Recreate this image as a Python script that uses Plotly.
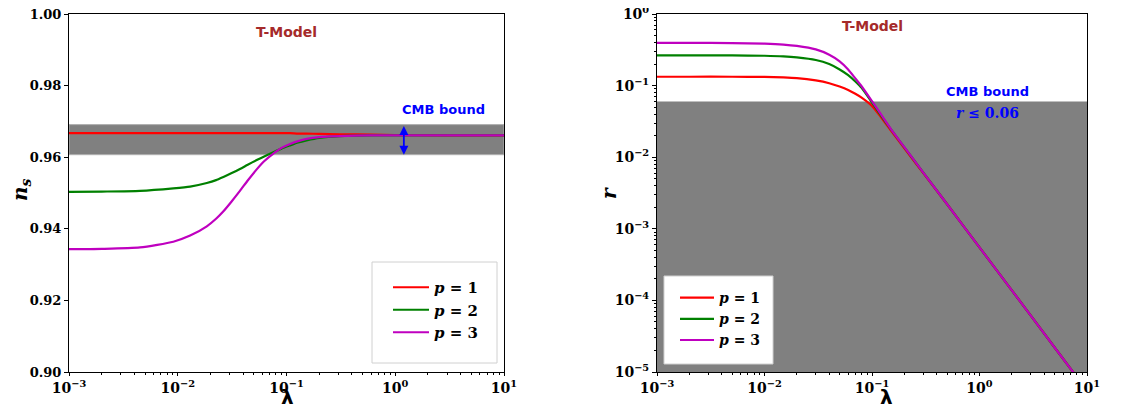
import plotly.graph_objects as go
import numpy as np

# ---------------- data ----------------
lam_ns = [0.001, 0.002, 0.0045, 0.0091, 0.013, 0.0185, 0.0225, 0.0263, 0.031, 0.0373,
          0.044, 0.0532, 0.063, 0.0757, 0.09, 0.108, 0.128, 0.153, 0.2, 0.31, 0.6,
          1.0, 3.0, 10.0]
ns_p1 = [0.9667, 0.9667, 0.9667, 0.9667, 0.9667, 0.9667, 0.9667, 0.9667, 0.9667, 0.9667,
         0.9667, 0.9667, 0.9667, 0.9667, 0.9667, 0.9667, 0.9666, 0.9666, 0.9665, 0.9664,
         0.9663, 0.9662, 0.9661, 0.9661]
ns_p2 = [0.9503, 0.9504, 0.9506, 0.9513, 0.9518, 0.9528, 0.9536, 0.9545, 0.9555, 0.9567,
         0.9579, 0.9592, 0.9603, 0.9614, 0.9624, 0.9633, 0.9641, 0.9647, 0.9654, 0.9659,
         0.9661, 0.9661, 0.9661, 0.9661]
ns_p3 = [0.9343, 0.9344, 0.9348, 0.9364, 0.9381, 0.9407, 0.9428, 0.9449, 0.9475, 0.9506,
         0.9535, 0.9566, 0.9590, 0.9610, 0.9626, 0.9637, 0.9645, 0.9651, 0.9656, 0.9659,
         0.9661, 0.9661, 0.9661, 0.9661]

lam_r = [0.001, 0.002, 0.005, 0.01, 0.015, 0.02, 0.03, 0.04, 0.05, 0.06, 0.07, 0.08,
         0.1, 0.12, 0.15, 0.2, 0.3, 0.5, 1.0, 2.0, 5.0, 10.0]
r_p1 = [0.133, 0.133, 0.133, 0.132, 0.130, 0.127, 0.118, 0.108, 0.097, 0.087, 0.077, 0.068,
        0.052, 0.037, 0.0235, 0.0133, 0.0060, 0.0022, 5.5e-4, 1.38e-4, 2.2e-5, 5.5e-6]
r_p2 = [0.265, 0.265, 0.264, 0.261, 0.256, 0.248, 0.228, 0.200, 0.168, 0.140, 0.114, 0.093,
        0.058, 0.039, 0.0245, 0.0137, 0.0061, 0.0022, 5.5e-4, 1.38e-4, 2.2e-5, 5.5e-6]
r_p3 = [0.395, 0.395, 0.392, 0.385, 0.374, 0.358, 0.320, 0.270, 0.218, 0.168, 0.126, 0.098,
        0.0605, 0.0405, 0.0247, 0.0138, 0.0061, 0.0022, 5.5e-4, 1.38e-4, 2.2e-5, 5.5e-6]

series_names = ["<b><i>p</i> = 1</b>", "<b><i>p</i> = 2</b>", "<b><i>p</i> = 3</b>"]
colors = ["#ff0000", "#008000", "#bf00bf"]

ns_band = [0.9607, 0.9691]
r_bound = 0.06
r_floor = 1e-5

x_tickvals = [1e-3, 1e-2, 1e-1, 1, 10]
x_ticktext = ["10<sup>−3</sup>", "10<sup>−2</sup>", "10<sup>−1</sup>", "10<sup>0</sup>", "10<sup>1</sup>"]
ns_tickvals = [0.90, 0.92, 0.94, 0.96, 0.98, 1.00]
ns_ticktext = ["0.90", "0.92", "0.94", "0.96", "0.98", "1.00"]
r_tickvals = [1e-5, 1e-4, 1e-3, 1e-2, 1e-1, 1]
r_ticktext = ["10<sup>−5</sup>", "10<sup>−4</sup>", "10<sup>−3</sup>", "10<sup>−2</sup>", "10<sup>−1</sup>", "10<sup>0</sup>"]

# minor tick positions (2..9 within each decade)
x_minor = [m * 10.0 ** e for e in range(-3, 1) for m in range(2, 10)]
r_minor = [m * 10.0 ** e for e in range(-5, 0) for m in range(2, 10)]

# ---------------- figure ----------------
# the page body adds an 8 px offset; positions below are in window pixels
OFF = 8
W, H = 1119, 400
fig = go.Figure()

for ys, name, c in zip([ns_p1, ns_p2, ns_p3], series_names, colors):
    fig.add_trace(go.Scatter(x=lam_ns, y=ys, mode="lines", name=name,
                             line=dict(color=c, width=2.2, shape="spline", smoothing=0.6),
                             xaxis="x", yaxis="y", legend="legend"))
for ys, name, c in zip([r_p1, r_p2, r_p3], series_names, colors):
    fig.add_trace(go.Scatter(x=lam_r, y=ys, mode="lines", name=name,
                             line=dict(color=c, width=2.2, shape="spline", smoothing=0.6),
                             xaxis="x2", yaxis="y2", legend="legend2"))

def px_x(p): return (p - OFF) / W
def px_y(p): return 1 - (p - OFF) / H

tickfont = dict(family="DejaVu Serif", size=13, color="black", weight="bold")
common_x = dict(type="log", range=[-3, 1], tickvals=x_tickvals, ticktext=x_ticktext,
                ticks="outside", ticklen=3, tickwidth=1, tickcolor="black",
                showline=True, linecolor="black", linewidth=1, mirror=True, automargin=False,
                ticklabeloverflow="allow",
                showgrid=False, zeroline=False, tickfont=dict(tickfont, size=14),
                minor=dict(ticks="outside", ticklen=2, tickcolor="black", showgrid=False,
                           tickvals=x_minor))

fig.update_layout(
    width=W, height=H, margin=dict(l=0, r=0, t=0, b=0, autoexpand=False),
    plot_bgcolor="white", paper_bgcolor="white",
    xaxis=dict(common_x, domain=[px_x(69), px_x(504)], anchor="y"),
    xaxis2=dict(common_x, domain=[px_x(657), px_x(1087)], anchor="y2"),
    yaxis=dict(range=[0.90, 1.00], domain=[px_y(372), px_y(14)], anchor="x", automargin=False,
               ticklabeloverflow="allow",
               tickvals=ns_tickvals, ticktext=ns_ticktext, ticks="outside", ticklen=4,
               tickcolor="black", showline=True, linecolor="black", linewidth=1, mirror=True,
               showgrid=False, zeroline=False, tickfont=tickfont),
    yaxis2=dict(type="log", range=[-5, 0], domain=[px_y(372), px_y(14)], anchor="x2",
                automargin=False, ticklabeloverflow="allow",
                tickvals=r_tickvals, ticktext=r_ticktext, ticks="outside", ticklen=4,
                tickcolor="black", showline=True, linecolor="black", linewidth=1, mirror=True,
                showgrid=False, zeroline=False, tickfont=dict(tickfont, size=14),
                minor=dict(ticks="outside", ticklen=2, tickcolor="black", showgrid=False,
                           tickvals=r_minor)),
    legend=dict(x=px_x(388), y=px_y(271), xanchor="left", yanchor="top",
                bgcolor="rgba(0,0,0,0)", borderwidth=0, itemwidth=36,
                font=dict(family="DejaVu Serif", size=15, color="black")),
    legend2=dict(x=px_x(675), y=px_y(282), xanchor="left", yanchor="top",
                 bgcolor="rgba(0,0,0,0)", borderwidth=0, itemwidth=34,
                 font=dict(family="DejaVu Serif", size=14, color="black")),
    showlegend=True,
)

# shaded bounds
fig.add_shape(type="rect", xref="x domain", yref="y", x0=0, x1=1, y0=ns_band[0], y1=ns_band[1],
              fillcolor="#808080", line=dict(color="#b0b0b0", width=1), layer="below")
fig.add_shape(type="rect", xref="x2 domain", yref="y2", x0=0, x1=1, y0=r_floor, y1=r_bound,
              fillcolor="#808080", line=dict(width=0), layer="below")

# legend boxes
fig.add_shape(type="rect", xref="paper", yref="paper", x0=px_x(372), x1=px_x(497),
              y0=px_y(363), y1=px_y(262), fillcolor="white",
              line=dict(color="#d0d0d0", width=1), layer="above", opacity=1)
fig.add_shape(type="rect", xref="paper", yref="paper", x0=px_x(664), x1=px_x(773),
              y0=px_y(364), y1=px_y(276), fillcolor="white",
              line=dict(color="#d0d0d0", width=1), layer="above", opacity=1)

# CMB arrow (left)
fig.add_annotation(x=np.log10(1.2), y=ns_band[0], ax=np.log10(1.2), ay=ns_band[1],
                   xref="x", yref="y", axref="x", ayref="y", text="", showarrow=True,
                   arrowhead=2, startarrowhead=2, arrowside="end+start", arrowsize=1,
                   arrowwidth=1.8, arrowcolor="blue")

sans_bold = dict(family="DejaVu Sans", size=13, weight="bold")
fig.add_annotation(x=np.log10(2.75), y=0.9733, xref="x", yref="y", text="CMB bound",
                   showarrow=False, font=dict(sans_bold, color="blue"))
fig.add_annotation(x=np.log10(0.1), y=0.9950, xref="x", yref="y", text="T-Model",
                   showarrow=False, font=dict(sans_bold, size=14, color="#a52a2a"))
fig.add_annotation(x=np.log10(1.18), y=np.log10(0.084), xref="x2", yref="y2", text="CMB bound",
                   showarrow=False, font=dict(sans_bold, color="blue"))
fig.add_annotation(x=np.log10(1.18), y=np.log10(0.041), xref="x2", yref="y2",
                   text="<b><i>r</i> ≤ 0.06</b>", showarrow=False,
                   font=dict(family="DejaVu Serif", size=14, color="blue"))
fig.add_annotation(x=np.log10(0.1), y=np.log10(0.68), xref="x2", yref="y2", text="T-Model",
                   showarrow=False, font=dict(sans_bold, size=14, color="#a52a2a"))

# axis titles
title_font = dict(family="DejaVu Serif", size=20, color="black", weight="bold")
for xp in (287, 886):
    fig.add_annotation(x=px_x(xp), y=px_y(397), xref="paper", yref="paper", text="<b>λ</b>",
                       xanchor="center", yanchor="middle", showarrow=False,
                       font=dict(family="DejaVu Sans", size=20, color="black"))
fig.add_annotation(x=px_x(21), y=px_y(190), xref="paper", yref="paper",
                   text="<b><i>n<sub>s</sub></i></b>", textangle=-90, showarrow=False,
                   xanchor="center", yanchor="middle", font=title_font)
fig.add_annotation(x=px_x(609), y=px_y(193), xref="paper", yref="paper",
                   text="<b><i>r</i></b>", textangle=-90, showarrow=False,
                   xanchor="center", yanchor="middle", font=title_font)

fig.write_html("out.html")
